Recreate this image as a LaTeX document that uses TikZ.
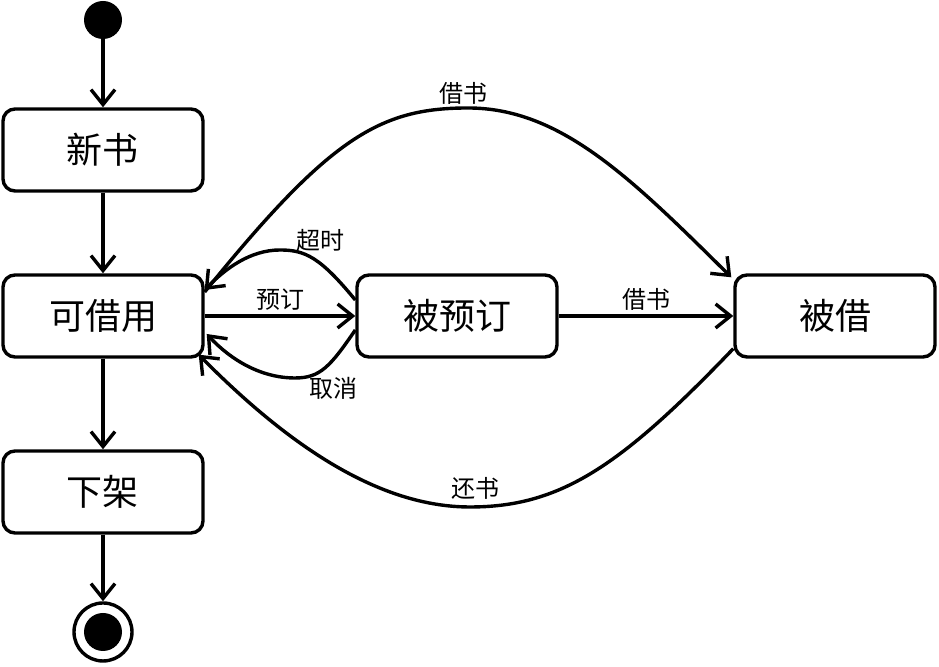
\documentclass[tikz,border=0pt]{standalone}
\usepackage{fontspec}
\setmainfont{Noto Sans CJK SC}
\usetikzlibrary{arrows.meta,calc}
\begin{document}
\begin{tikzpicture}[x=0.5pt,y=0.5pt,
  state/.style={draw,line width=1.7pt,rounded corners=6pt,minimum width=100pt,minimum height=41pt,inner sep=0pt,font=\fontsize{18}{18}\selectfont},
  lbl/.style={font=\fontsize{12}{12}\selectfont,inner sep=1pt},
  arr/.style={line width=1.7pt,-{Straight Barb[length=7.5pt,width=12pt,line width=1.7pt]}},
  ln/.style={line width=1.7pt}]
\useasboundingbox (0,0) rectangle (939,667);
\node[circle,fill=black,minimum size=19pt,inner sep=0pt] (init) at (103,647) {};
\node[state] (xinshu) at (103,517) {新书};
\node[state] (kejie) at (103,351) {可借用};
\node[state] (xiajia) at (103,175) {下架};
\node[state] (beiyu) at (457,351) {被预订};
\node[state] (beijie) at (835,351) {被借};
\node[circle,draw,line width=1.7pt,minimum size=29pt,inner sep=0pt] (final) at (103,35) {};
\node[circle,fill=black,minimum size=19pt,inner sep=0pt] (finalin) at (final.center) {};
\draw[arr] (init) -- (xinshu);
\draw[arr] (xinshu) -- (kejie);
\draw[arr] (kejie) -- (xiajia);
\draw[arr] (xiajia) -- (final);
\draw[arr] (kejie) -- node[lbl,above,yshift=1pt] {预订} (beiyu);
\draw[arr] (beiyu) -- node[lbl,above,yshift=1pt] {借书} (beijie);
\coordinate (t1) at ($(kejie.east)+(0,24)$);
\coordinate (t2) at ($(beijie.north west)+(-2,-4)$);
\draw[arr] (t1) .. controls (330,530) and (380,559) .. (468,559) .. controls (560,559) and (630,490) .. (t2);
\node[lbl] (ljs) at (463,574) {借书};
\coordinate (c1) at ($(beiyu.west)+(0,16)$);
\coordinate (c2) at ($(kejie.east)+(0,26)$);
\draw[arr] (c1) .. controls (320,410) and (305,417) .. (280,417) .. controls (250,417) and (225,398) .. (c2);
\node[lbl] (lcs) at (320,427) {超时};
\coordinate (q1) at ($(beiyu.west)+(0,-14)$);
\coordinate (q2) at ($(kejie.east)+(2,-18)$);
\draw[arr] (q1) .. controls (330,300) and (320,289) .. (295,289) .. controls (260,289) and (230,308) .. (q2);
\node[lbl] (lqx) at (333,279) {取消};
\coordinate (h1) at ($(beijie.south west)+(0,10)$);
\coordinate (h2) at ($(kejie.south east)+(-6,4)$);
\draw[arr] (h1) .. controls (620,200) and (560,160) .. (470,160) .. controls (380,160) and (290,220) .. (h2);
\node[lbl] (lhs) at (475,179) {还书};
\end{tikzpicture}
\end{document}
